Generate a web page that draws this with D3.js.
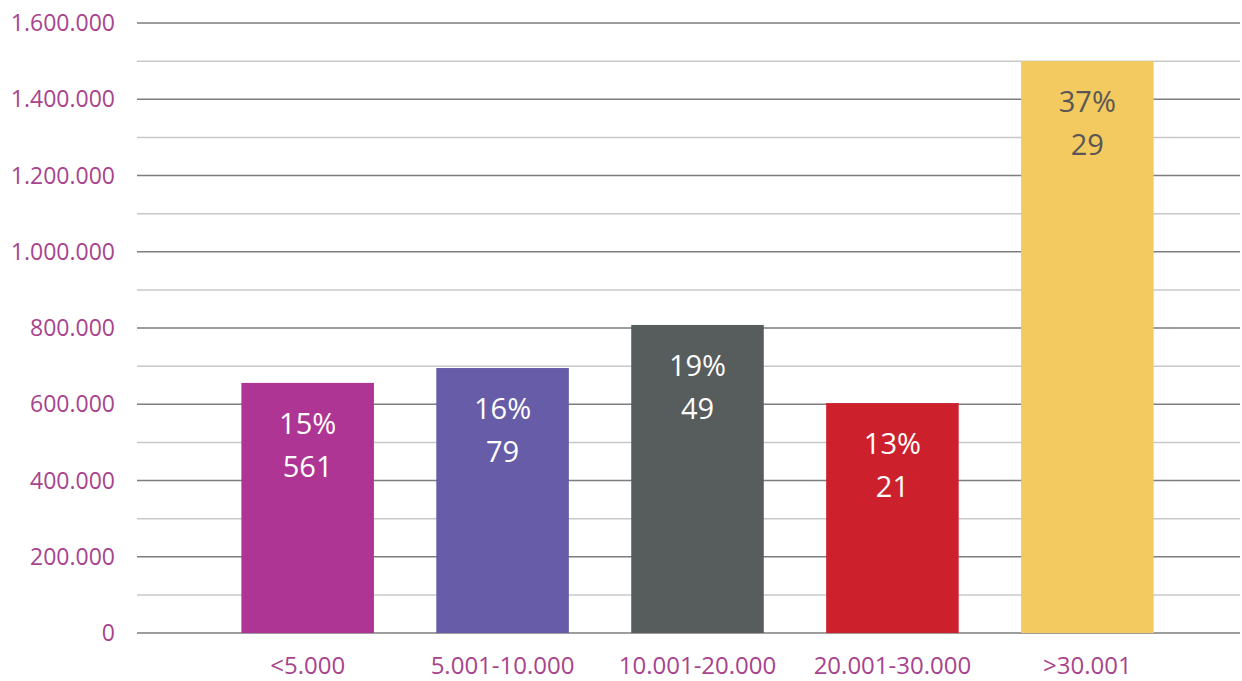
<!DOCTYPE html>
<html>
<head>
<meta charset="utf-8">
<script src="https://cdn.jsdelivr.net/npm/d3@7"></script>
<style>
  body { margin: 0; background: #fff; }
  svg { display: block; font-family: "Open Sans", sans-serif; }
</style>
</head>
<body>
<script>
// data
var categories = ["<5.000", "5.001-10.000", "10.001-20.000", "20.001-30.000", ">30.001"];
var values = [656000, 695000, 808000, 603000, 1500000];
var pctLabels = ["15%", "16%", "19%", "13%", "37%"];
var countLabels = ["561", "79", "49", "21", "29"];
var barColors = ["#ae3594", "#665ca8", "#575c5c", "#cc212d", "#f2ca5f"];
var yTicks = [0, 200000, 400000, 600000, 800000, 1000000, 1200000, 1400000, 1600000];

var width = 1242, height = 681;
var gridLeft = 137, gridRight = 1240;
var purple = "#a8448e";

var svg = d3.select("body").append("svg")
    .attr("width", width)
    .attr("height", height);

var y = d3.scaleLinear()
    .domain([0, 1600000])
    .range([633, 23]);

var x = d3.scaleBand()
    .domain(categories)
    .range([179, 1216])
    .padding(0.32);

var fmt = function(v) {
    return v == 0 ? "0" : d3.format(",")(v).replace(/,/g, ".");
};

// minor gridlines every 100k
svg.append("g")
    .selectAll("line")
    .data(d3.range(100000, 1600000, 200000))
    .enter()
    .append("line")
    .attr("x1", gridLeft)
    .attr("x2", gridRight)
    .attr("y1", d => y(d))
    .attr("y2", d => y(d))
    .attr("stroke", "#c8c8c8")
    .attr("stroke-width", 1.5);

// major gridlines
svg.append("g")
    .selectAll("line")
    .data(yTicks)
    .enter()
    .append("line")
    .attr("x1", gridLeft)
    .attr("x2", gridRight)
    .attr("y1", d => y(d))
    .attr("y2", d => y(d))
    .attr("stroke", "#7d7d7d")
    .attr("stroke-width", 1.5);

// y tick labels
svg.append("g")
    .attr("font-size", 23)
    .attr("fill", purple)
    .selectAll("text")
    .data(yTicks)
    .enter()
    .append("text")
    .attr("x", 115)
    .attr("y", d => y(d))
    .attr("dy", "0.35em")
    .attr("text-anchor", "end")
    .text(d => fmt(d));

var data = categories.map((c, i) => ({
    cat: c, value: values[i], pct: pctLabels[i], count: countLabels[i], color: barColors[i]
}));

svg.append("g")
    .selectAll("rect")
    .data(data)
    .enter()
    .append("rect")
    .attr("x", d => x(d.cat))
    .attr("y", d => y(d.value))
    .attr("width", x.bandwidth())
    .attr("height", d => y(0) - y(d.value))
    .attr("fill", d => d.color);

var labels = svg.append("g")
    .attr("font-size", 29)
    .attr("text-anchor", "middle")
    .selectAll("g")
    .data(data)
    .enter()
    .append("g")
    .attr("fill", (d, i) => i == 4 ? "#5a5656" : "#ffffff");

labels.append("text")
    .attr("x", d => x(d.cat) + x.bandwidth() / 2)
    .attr("y", d => y(d.value) + 51)
    .text(d => d.pct);

labels.append("text")
    .attr("x", d => x(d.cat) + x.bandwidth() / 2)
    .attr("y", d => y(d.value) + 94)
    .text(d => d.count);

// x category labels
svg.append("g")
    .attr("font-size", 24)
    .attr("fill", purple)
    .attr("text-anchor", "middle")
    .selectAll("text")
    .data(categories)
    .enter()
    .append("text")
    .attr("x", d => x(d) + x.bandwidth() / 2)
    .attr("y", 666)
    .attr("dy", "0.35em")
    .text(d => d);
</script>
</body>
</html>
